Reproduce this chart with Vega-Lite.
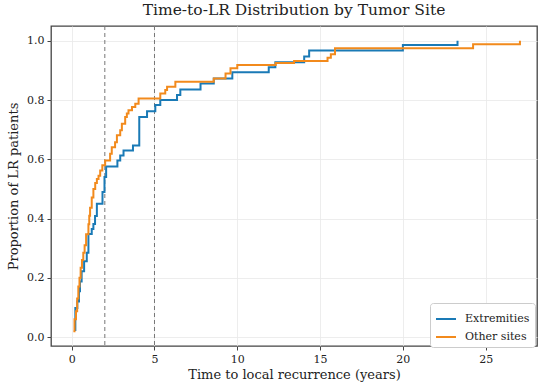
{
  "$schema": "https://vega.github.io/schema/vega-lite/v6.json",
  "width": 486,
  "height": 320,
  "autosize": {"type": "none"},
  "padding": {"left": 51, "top": 26, "right": 13, "bottom": 43},
  "background": "white",
  "config": {
    "font": "DejaVu Serif",
    "view": {"stroke": "#444", "strokeWidth": 1.3},
    "axis": {
      "labelFont": "DejaVu Serif",
      "titleFont": "DejaVu Serif",
      "labelFontSize": 11,
      "titleFontSize": 13,
      "titleFontWeight": "normal",
      "labelColor": "#222",
      "titleColor": "#222",
      "gridColor": "#e8e8e8",
      "gridWidth": 0.8,
      "tickColor": "#444",
      "tickSize": 4,
      "domain": false,
      "labelPadding": 3
    },
    "title": {"font": "DejaVu Serif", "fontSize": 15.5, "fontWeight": "normal", "color": "#222"}
  },
  "title": {"text": "Time-to-LR Distribution by Tumor Site", "offset": 7},
  "datasets": {
    "ecdf": [
      {"site": "Extremities", "t": 0.20, "p": 0.024},
      {"site": "Extremities", "t": 0.22, "p": 0.098},
      {"site": "Extremities", "t": 0.34, "p": 0.12},
      {"site": "Extremities", "t": 0.44, "p": 0.155},
      {"site": "Extremities", "t": 0.50, "p": 0.188},
      {"site": "Extremities", "t": 0.60, "p": 0.222},
      {"site": "Extremities", "t": 0.75, "p": 0.256},
      {"site": "Extremities", "t": 0.91, "p": 0.285},
      {"site": "Extremities", "t": 1.01, "p": 0.348},
      {"site": "Extremities", "t": 1.21, "p": 0.365},
      {"site": "Extremities", "t": 1.31, "p": 0.382},
      {"site": "Extremities", "t": 1.41, "p": 0.409},
      {"site": "Extremities", "t": 1.52, "p": 0.45},
      {"site": "Extremities", "t": 1.86, "p": 0.49},
      {"site": "Extremities", "t": 1.98, "p": 0.54},
      {"site": "Extremities", "t": 2.08, "p": 0.576},
      {"site": "Extremities", "t": 2.76, "p": 0.596},
      {"site": "Extremities", "t": 2.93, "p": 0.613},
      {"site": "Extremities", "t": 3.13, "p": 0.63},
      {"site": "Extremities", "t": 3.70, "p": 0.647},
      {"site": "Extremities", "t": 4.08, "p": 0.743},
      {"site": "Extremities", "t": 4.55, "p": 0.762},
      {"site": "Extremities", "t": 5.05, "p": 0.783},
      {"site": "Extremities", "t": 5.35, "p": 0.80},
      {"site": "Extremities", "t": 6.36, "p": 0.817},
      {"site": "Extremities", "t": 6.56, "p": 0.836},
      {"site": "Extremities", "t": 7.78, "p": 0.856},
      {"site": "Extremities", "t": 8.58, "p": 0.873},
      {"site": "Extremities", "t": 9.70, "p": 0.894},
      {"site": "Extremities", "t": 11.9, "p": 0.911},
      {"site": "Extremities", "t": 12.3, "p": 0.928},
      {"site": "Extremities", "t": 14.04, "p": 0.947},
      {"site": "Extremities", "t": 14.34, "p": 0.967},
      {"site": "Extremities", "t": 20.0, "p": 0.986},
      {"site": "Extremities", "t": 23.3, "p": 1.0},
      {"site": "Other sites", "t": 0.10, "p": 0.02},
      {"site": "Other sites", "t": 0.17, "p": 0.06},
      {"site": "Other sites", "t": 0.26, "p": 0.087},
      {"site": "Other sites", "t": 0.33, "p": 0.13},
      {"site": "Other sites", "t": 0.40, "p": 0.171},
      {"site": "Other sites", "t": 0.47, "p": 0.2},
      {"site": "Other sites", "t": 0.54, "p": 0.234},
      {"site": "Other sites", "t": 0.62, "p": 0.26},
      {"site": "Other sites", "t": 0.70, "p": 0.285},
      {"site": "Other sites", "t": 0.78, "p": 0.31},
      {"site": "Other sites", "t": 0.87, "p": 0.347},
      {"site": "Other sites", "t": 1.01, "p": 0.381},
      {"site": "Other sites", "t": 1.06, "p": 0.41},
      {"site": "Other sites", "t": 1.11, "p": 0.437},
      {"site": "Other sites", "t": 1.21, "p": 0.471},
      {"site": "Other sites", "t": 1.31, "p": 0.5},
      {"site": "Other sites", "t": 1.42, "p": 0.52},
      {"site": "Other sites", "t": 1.52, "p": 0.534},
      {"site": "Other sites", "t": 1.62, "p": 0.545},
      {"site": "Other sites", "t": 1.72, "p": 0.562},
      {"site": "Other sites", "t": 1.85, "p": 0.58},
      {"site": "Other sites", "t": 2.02, "p": 0.596},
      {"site": "Other sites", "t": 2.32, "p": 0.619},
      {"site": "Other sites", "t": 2.42, "p": 0.641},
      {"site": "Other sites", "t": 2.62, "p": 0.658},
      {"site": "Other sites", "t": 2.73, "p": 0.681},
      {"site": "Other sites", "t": 2.93, "p": 0.698},
      {"site": "Other sites", "t": 3.03, "p": 0.72},
      {"site": "Other sites", "t": 3.23, "p": 0.743},
      {"site": "Other sites", "t": 3.33, "p": 0.755},
      {"site": "Other sites", "t": 3.43, "p": 0.766},
      {"site": "Other sites", "t": 3.64, "p": 0.777},
      {"site": "Other sites", "t": 3.84, "p": 0.788},
      {"site": "Other sites", "t": 4.04, "p": 0.805},
      {"site": "Other sites", "t": 5.35, "p": 0.822},
      {"site": "Other sites", "t": 5.65, "p": 0.834},
      {"site": "Other sites", "t": 5.76, "p": 0.845},
      {"site": "Other sites", "t": 6.26, "p": 0.862},
      {"site": "Other sites", "t": 8.58, "p": 0.873},
      {"site": "Other sites", "t": 9.29, "p": 0.89},
      {"site": "Other sites", "t": 9.59, "p": 0.907},
      {"site": "Other sites", "t": 10.0, "p": 0.918},
      {"site": "Other sites", "t": 12.32, "p": 0.925},
      {"site": "Other sites", "t": 13.43, "p": 0.932},
      {"site": "Other sites", "t": 15.45, "p": 0.943},
      {"site": "Other sites", "t": 15.65, "p": 0.955},
      {"site": "Other sites", "t": 15.9, "p": 0.975},
      {"site": "Other sites", "t": 24.24, "p": 0.988},
      {"site": "Other sites", "t": 27.07, "p": 1.0}
    ],
    "marks": [{"yr": 2}, {"yr": 5}]
  },
  "layer": [
    {
      "data": {"name": "marks"},
      "mark": {"type": "rule", "color": "#777", "strokeDash": [4, 3], "strokeWidth": 1},
      "encoding": {
        "x": {"field": "yr", "type": "quantitative", "scale": {"domain": [-1.25, 28.1], "nice": false, "zero": false}}
      }
    },
    {
      "data": {"name": "ecdf"},
      "mark": {"type": "line", "interpolate": "step-after", "strokeWidth": 2},
      "encoding": {
        "x": {
          "field": "t", "type": "quantitative",
          "scale": {"domain": [-1.25, 28.1], "nice": false, "zero": false},
          "axis": {"values": [0, 5, 10, 15, 20, 25], "format": "d", "title": "Time to local recurrence (years)", "titlePadding": 4}
        },
        "y": {
          "field": "p", "type": "quantitative",
          "scale": {"domain": [-0.03, 1.05], "nice": false, "zero": false},
          "axis": {"values": [0, 0.2, 0.4, 0.6, 0.8, 1.0], "format": ".1f", "title": "Proportion of LR patients", "titlePadding": 6}
        },
        "color": {
          "field": "site", "type": "nominal",
          "scale": {"domain": ["Extremities", "Other sites"], "range": ["#1a7ab6", "#f28a1c"]},
          "legend": {
            "title": null,
            "orient": "none",
            "legendX": 379,
            "legendY": 277,
            "direction": "vertical",
            "symbolType": "stroke",
            "symbolSize": 400,
            "symbolStrokeWidth": 2,
            "labelFont": "DejaVu Serif",
            "labelFontSize": 11,
            "labelColor": "#222",
            "fillColor": "white",
            "strokeColor": "#cccccc",
            "cornerRadius": 3,
            "padding": 5,
            "rowPadding": 2,
            "labelOffset": 8
          }
        }
      }
    }
  ]
}
